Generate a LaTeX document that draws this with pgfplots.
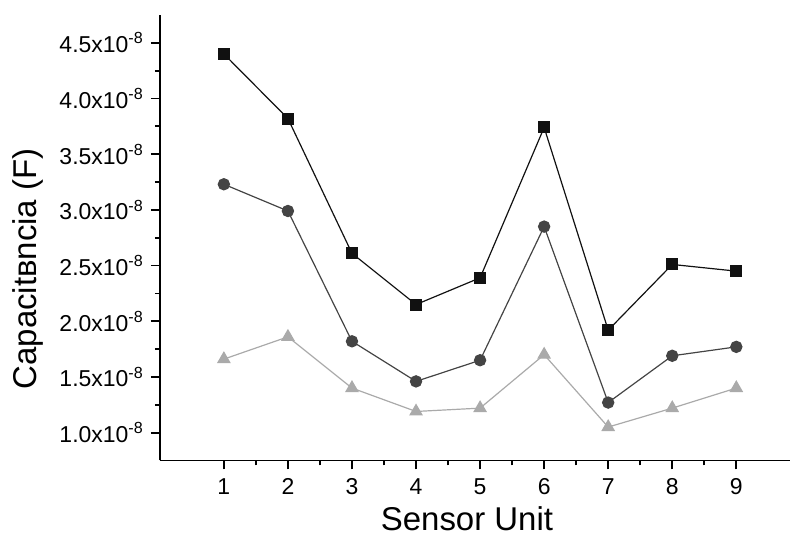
\documentclass[border=0pt]{standalone}
\usepackage{fontspec}
\setmainfont{Liberation Sans}
\usepackage{pgfplots}
\pgfplotsset{compat=1.18}

\definecolor{sq}{HTML}{111111}
\definecolor{ci}{HTML}{444444}
\definecolor{tr}{HTML}{AAAAAA}

\begin{document}
\begin{tikzpicture}
\begin{axis}[
  scale only axis, width=315.5pt, height=223pt,
  xmin=0, xmax=9.84, ymin=0.75, ymax=4.75,
  axis lines=left, axis line style={-, line width=0.9pt},
  xtick={1,...,9}, minor x tick num=1,
  ytick={1,1.5,...,4.5}, minor y tick num=1,
  yticklabels={1.0x10\textsuperscript{-8},1.5x10\textsuperscript{-8},2.0x10\textsuperscript{-8},2.5x10\textsuperscript{-8},3.0x10\textsuperscript{-8},3.5x10\textsuperscript{-8},4.0x10\textsuperscript{-8},4.5x10\textsuperscript{-8}},
  tick align=outside, major tick length=4.5pt, minor tick length=2.5pt,
  tick style={line width=0.9pt, black},
  tick label style={font=\fontsize{11.5}{13}\selectfont},
  xticklabel style={yshift=-1pt},
  /pgf/number format/assume math mode=true,
  xlabel={Sensor Unit}, ylabel={Capacitвncia (F)},
  label style={font=\fontsize{16.5}{19}\selectfont},
  xlabel style={yshift=1pt, xshift=-4pt},
  ylabel style={at={(ticklabel cs:0.43)}, yshift=1pt},
  clip=false,
]
\addplot[color=tr, line width=0.6pt, mark=triangle*, mark size=3.4pt, mark options={fill=tr, draw=tr}]
 coordinates {(1,1.66)(2,1.86)(3,1.40)(4,1.19)(5,1.22)(6,1.70)(7,1.05)(8,1.22)(9,1.40)};
\addplot[color=ci, line width=0.6pt, mark=*, mark size=2.8pt, mark options={fill=ci, draw=ci}]
 coordinates {(1,3.23)(2,2.99)(3,1.82)(4,1.46)(5,1.65)(6,2.85)(7,1.27)(8,1.69)(9,1.77)};
\addplot[color=sq, line width=0.6pt, mark=square*, mark size=2.7pt, mark options={fill=sq, draw=sq}]
 coordinates {(1,4.40)(2,3.82)(3,2.61)(4,2.15)(5,2.39)(6,3.74)(7,1.92)(8,2.51)(9,2.45)};
\end{axis}
\path (current axis.south west) ++(-80pt,-39pt) coordinate (bl);
\path (current axis.north east) ++(0pt,7.5pt) coordinate (tr);
\path[use as bounding box] (bl) rectangle (tr);
\end{tikzpicture}
\end{document}
